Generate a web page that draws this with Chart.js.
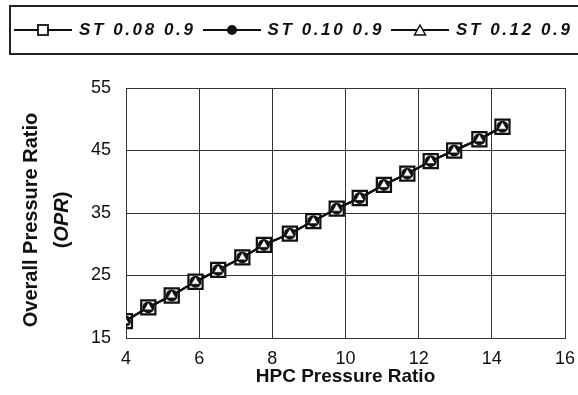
<!DOCTYPE html>
<html>
<head>
<meta charset="utf-8">
<script src="https://cdn.jsdelivr.net/npm/chart.js@4.4.0/dist/chart.umd.min.js"></script>
<style>
    body { margin: 0; background: #fff; overflow: hidden; }
    #wrap { position: relative; width: 578px; height: 395px; overflow: hidden; }
    #legend {
        position: absolute; left: 9px; top: 5px; width: 620px; height: 46px;
        border: 2px solid #222; border-right: none;
        display: flex; align-items: center; padding-left: 3px;
        font-family: Arial, "Liberation Sans", sans-serif;
        font-weight: bold; font-style: italic; font-size: 17px; color: #111;
    }
    #legend svg { display: block; margin-right: 7px; }
    #legend .txt { letter-spacing: 2.6px; margin-right: 7px; white-space: nowrap; }
</style>
</head>
<body>
<div id="wrap">
    <canvas id="chart0" width="578" height="395"></canvas>
    <div id="legend"></div>
</div>
<script>
// HPC pressure ratio (x)
let hpcRatio = [3.97, 4.61, 5.25, 5.90, 6.52, 7.18, 7.77, 8.48, 9.12, 9.76, 10.39, 11.05, 11.69, 12.33, 12.97, 13.66, 14.29];
// overall pressure ratio for each case (curves sit on top of each other)
let oprSt008 = [17.7, 19.9, 21.8, 24.0, 25.9, 27.9, 29.9, 31.7, 33.7, 35.7, 37.4, 39.5, 41.3, 43.3, 45.0, 46.8, 48.8];
let oprSt010 = [17.7, 19.9, 21.8, 24.0, 25.9, 27.9, 29.9, 31.7, 33.7, 35.7, 37.4, 39.5, 41.3, 43.3, 45.0, 46.8, 48.8];
let oprSt012 = [17.7, 19.9, 21.8, 24.0, 25.9, 27.9, 29.9, 31.7, 33.7, 35.7, 37.4, 39.5, 41.3, 43.3, 45.0, 46.8, 48.8];
let seriesNames = ["ST 0.08 0.9", "ST 0.10 0.9", "ST 0.12 0.9"];
let xTicks = [4, 6, 8, 10, 12, 14, 16];
let yTicks = [15, 25, 35, 45, 55];

let chart0 = document.getElementById("chart0");

function toPoints(ys) {
    return hpcRatio.map((x, i) => ({ x: x, y: ys[i] }));
}

// legend in html: line with marker in the middle
let markerSvg = [
    '<rect x="24" y="3" width="10" height="10" fill="#fff" stroke="#111" stroke-width="1.8"/>',
    '<circle cx="29" cy="8" r="5" fill="#111"/>',
    '<polygon points="29,3 34.5,13 23.5,13" fill="#fff" stroke="#111" stroke-width="1.5"/>'
];
let legendHtml = "";
seriesNames.forEach((name, i) => {
    legendHtml += '<svg width="58" height="16"><line x1="0" y1="8" x2="58" y2="8" stroke="#111" stroke-width="1.8"/>'
        + markerSvg[i] + '</svg><span class="txt">' + name + '</span>';
});
document.getElementById("legend").innerHTML = legendHtml;

// y title with italic OPR
const yTitlePlugin = {
    id: "yTitle",
    afterDraw(chart) {
        const ctx = chart.ctx;
        const area = chart.chartArea;
        const cy = (area.top + area.bottom) / 2 + 7;
        let fNorm = "bold 20px Arial, 'Liberation Sans', sans-serif";
        let fIt = "italic bold 20px Arial, 'Liberation Sans', sans-serif";
        ctx.save();
        ctx.fillStyle = "#111";
        ctx.textBaseline = "middle";
        ctx.translate(31, cy);
        ctx.rotate(-Math.PI / 2);
        ctx.textAlign = "center";
        ctx.font = fNorm;
        ctx.fillText("Overall Pressure Ratio", 0, 0);
        // second line: ( OPR )
        let w1 = ctx.measureText("(").width;
        ctx.font = fIt;
        let w2 = ctx.measureText("OPR").width;
        let x0 = -(w1 * 2 + w2) / 2;
        ctx.textAlign = "left";
        ctx.font = fNorm;
        ctx.fillText("(", x0, 31);
        ctx.font = fIt;
        ctx.fillText("OPR", x0 + w1, 31);
        ctx.font = fNorm;
        ctx.fillText(")", x0 + w1 + w2, 31);
        ctx.restore();
    }
};

new Chart(chart0, {
    type: 'line',
    data: {
        datasets: [
            {
                label: seriesNames[0],
                data: toPoints(oprSt008),
                borderColor: '#111',
                borderWidth: 2,
                pointStyle: 'rect',
                pointRadius: 10,
                pointBorderWidth: 2.2,
                pointBackgroundColor: '#fff',
                pointBorderColor: '#111',
                order: 3
            },
            {
                label: seriesNames[1],
                data: toPoints(oprSt010),
                borderColor: '#111',
                borderWidth: 2,
                pointStyle: 'circle',
                pointRadius: 6,
                pointBorderWidth: 0,
                pointBackgroundColor: '#111',
                pointBorderColor: '#111',
                order: 2
            },
            {
                label: seriesNames[2],
                data: toPoints(oprSt012),
                borderColor: '#111',
                borderWidth: 2,
                pointStyle: 'triangle',
                pointRadius: 5,
                pointBorderWidth: 0.8,
                pointBackgroundColor: '#fff',
                pointBorderColor: '#111',
                order: 1
            }
        ]
    },
    options: {
        responsive: false,
        animation: false,
        layout: {
            padding: { top: 88, right: 13, left: 0, bottom: 0 }
        },
        plugins: {
            legend: { display: false },
            tooltip: { enabled: false }
        },
        scales: {
            x: {
                type: 'linear',
                min: xTicks[0],
                max: xTicks[xTicks.length - 1],
                afterBuildTicks: axis => { axis.ticks = xTicks.map(v => ({ value: v })); },
                afterFit: axis => {
                    axis.height = 57;
                    axis.paddingRight = 0;
                    axis.paddingLeft = 0;
                },
                grid: { color: '#333', lineWidth: 1, drawTicks: false },
                border: { color: '#333', width: 1 },
                ticks: {
                    padding: 10,
                    color: '#111',
                    font: { family: "Arial, 'Liberation Sans', sans-serif", size: 18 }
                },
                title: {
                    display: true,
                    text: 'HPC Pressure Ratio',
                    color: '#111',
                    padding: { top: 0, bottom: 7 },
                    font: { family: "Arial, 'Liberation Sans', sans-serif", size: 19, weight: 'bold' }
                }
            },
            y: {
                type: 'linear',
                min: yTicks[0],
                max: yTicks[yTicks.length - 1],
                afterBuildTicks: axis => { axis.ticks = yTicks.map(v => ({ value: v })); },
                afterFit: axis => { axis.width = 126; },
                grid: { color: '#333', lineWidth: 1, drawTicks: false },
                border: { color: '#333', width: 1 },
                ticks: {
                    padding: 15,
                    color: '#111',
                    font: { family: "Arial, 'Liberation Sans', sans-serif", size: 18 }
                }
            }
        }
    },
    plugins: [yTitlePlugin]
});
</script>
</body>
</html>
